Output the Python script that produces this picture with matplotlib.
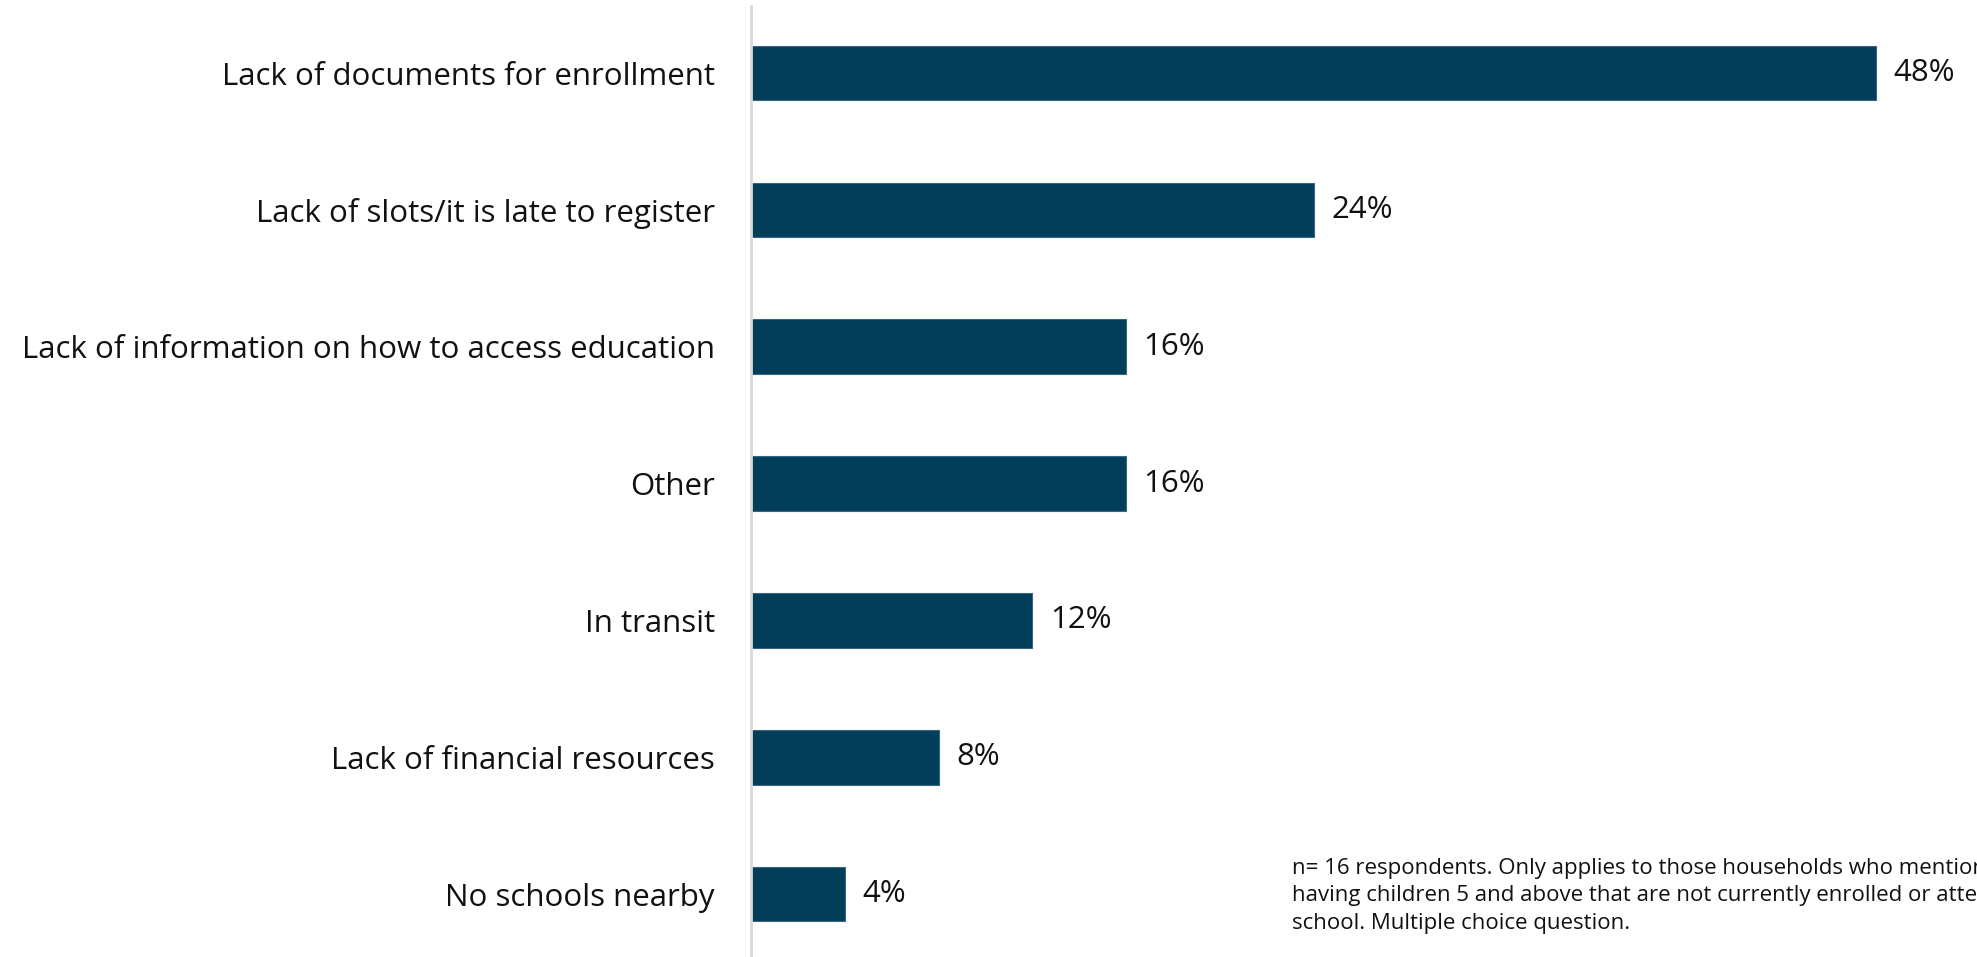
import matplotlib.pyplot as plt

categories = [
    "Lack of documents for enrollment",
    "Lack of slots/it is late to register",
    "Lack of information on how to access education",
    "Other",
    "In transit",
    "Lack of financial resources",
    "No schools nearby",
]
values = [48, 24, 16, 16, 12, 8, 4]
value_labels = ["48%", "24%", "16%", "16%", "12%", "8%", "4%"]

note = ("n= 16 respondents. Only applies to those households who mentioned\n"
        "having children 5 and above that are not currently enrolled or attending\n"
        "school. Multiple choice question.")

plt.rcParams['font.family'] = ['Open Sans', 'DejaVu Sans']

fig = plt.figure(figsize=(19.77, 9.57), dpi=100)
ax = fig.add_axes([751 / 1977, 0, 1 - 751 / 1977, 951 / 957])

pos = list(range(len(categories)))
ax.barh(pos, values, height=0.4, color='#023e5a', edgecolor='#3a6580', linewidth=0.8)

for p, v, lab in zip(pos, values, value_labels):
    ax.text(v + 0.75, p, lab, va='center', ha='left', fontsize=22.5, color='#111111')

ax.set_yticks(pos)
ax.set_yticklabels(categories, fontsize=22.5, color='#111111')
ax.tick_params(axis='y', length=0, pad=26)
ax.set_xticks([])
ax.set_xlim(0, 52.3)
ax.set_ylim(6.46, -0.49)

for s in ['top', 'right', 'bottom']:
    ax.spines[s].set_visible(False)
ax.spines['left'].set_color('#d9d9d9')
ax.spines['left'].set_linewidth(2)

# note runs off the right edge, as in the original slide
fig.text(1292 / 1977, 1 - 858 / 957, note, fontsize=16, color='#111111',
         va='top', ha='left', linespacing=1.4)

fig.savefig('out.png', dpi=100)
